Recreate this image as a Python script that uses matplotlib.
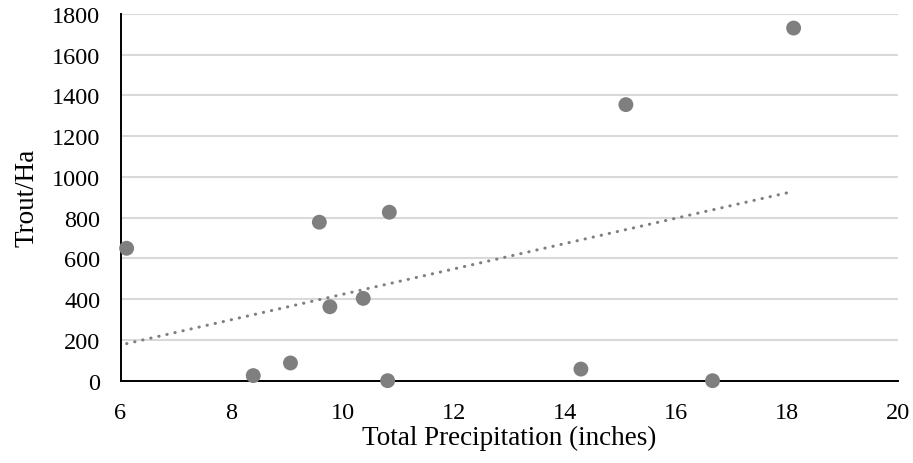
import numpy as np
import matplotlib.pyplot as plt

# 数据：降水量与每公顷鳟鱼数
precip = [6.11, 8.39, 9.06, 9.58, 9.77, 10.37, 10.84, 10.81, 14.29, 16.66, 15.10, 18.12]
trout = [650, 25, 87, 778, 363, 404, 827, 0, 57, 0, 1355, 1731]
xticks = [6, 8, 10, 12, 14, 16, 18, 20]
yticks = [0, 200, 400, 600, 800, 1000, 1200, 1400, 1600, 1800]

plt.rcParams['font.family'] = ['Liberation Serif', 'DejaVu Serif']

fig = plt.figure(figsize=(9.13, 4.64), dpi=100)
ax = fig.add_axes([0.132, 0.1774, 0.8516, 0.7903])

# 线性趋势线
b, a = np.polyfit(precip, trout, 1)
xs = np.array([min(precip), max(precip)])
ax.plot(xs, b * xs + a, color='#7f7f7f', lw=2.2, linestyle=(0, (0.1, 2.6)),
        dash_capstyle='round', zorder=2)

ax.scatter(precip, trout, s=115, color='#7f7f7f', edgecolors='none', zorder=3, clip_on=False)

ax.set_xlim(6, 20)
ax.set_ylim(0, 1800)
ax.set_xticks(xticks)
ax.set_yticks(yticks)
ax.grid(axis='y', color='#d9d9d9', lw=1.5, zorder=0)
ax.set_axisbelow(True)
for s in ['top', 'right']:
    ax.spines[s].set_visible(False)
ax.spines['left'].set_linewidth(1.4)
ax.spines['bottom'].set_linewidth(1.4)
ax.tick_params(length=0, labelsize=17.5)
ax.tick_params(axis='y', pad=14.5)
ax.tick_params(axis='x', pad=15)
ax.set_xlabel('Total Precipitation (inches)', fontsize=19.5, labelpad=2)
ax.set_ylabel('Trout/Ha', fontsize=19.5, labelpad=9)

fig.savefig('out.png', dpi=100)
